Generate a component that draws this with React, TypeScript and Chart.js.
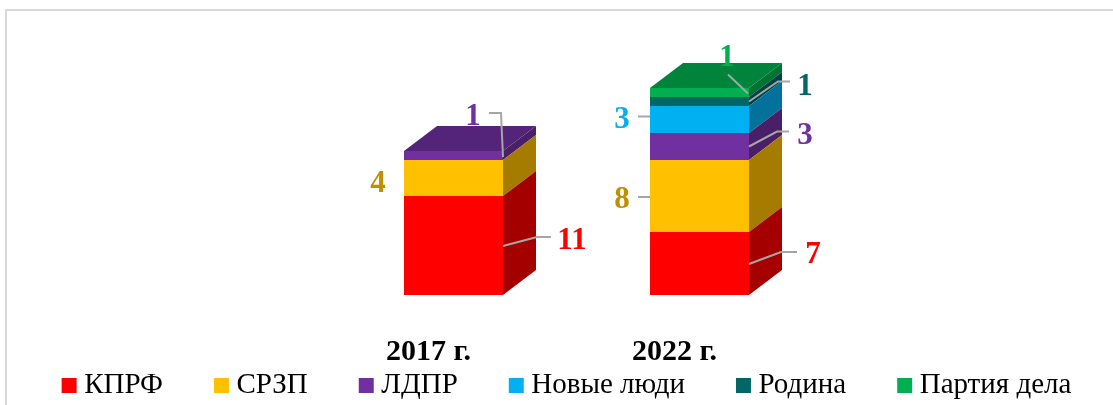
import React, { useEffect, useRef } from "react";
import { Chart, registerables } from "chart.js";

Chart.register(...registerables);

const categories = ["2017 г.", "2022 г."];
const kprf = [11, 7];
const srzp = [4, 8];
const ldpr = [1, 3];
const newPeople = [null, 3];
const rodina = [null, 1];
const delo = [null, 1];

const FONT = "'Liberation Serif', 'Times New Roman', serif";
const DEPTH_X = 33;
const DEPTH_Y = 25;

const seriesStyles = [
  { label: "КПРФ", data: kprf, color: "#FF0000", side: "#A50000", top: "#BF0000", text: "#FF0000" },
  { label: "СРЗП", data: srzp, color: "#FFC000", side: "#A67C00", top: "#BF9000", text: "#BF9000" },
  { label: "ЛДПР", data: ldpr, color: "#7030A0", side: "#491F68", top: "#54247A", text: "#7030A0" },
  { label: "Новые люди", data: newPeople, color: "#00B0F0", side: "#00729C", top: "#0084B4", text: "#00B0F0" },
  { label: "Родина", data: rodina, color: "#006666", side: "#004242", top: "#004D4D", text: "#006666" },
  { label: "Партия дела", data: delo, color: "#00B050", side: "#007234", top: "#00843C", text: "#00B050" },
];

// Label placement relative to the middle of each bar's right front edge.
const callouts = [
  { s: 0, i: 0, tx: 69, ty: -7, path: [[0, 0.5], [34, -8.5], [48, -8.5]] },
  { s: 1, i: 0, tx: -125, ty: 4, path: [] },
  { s: 2, i: 0, tx: -30, ty: -40.5, path: [[-14, -42.5], [-2, -42.5], [0, 1.5]] },
  { s: 0, i: 1, tx: 64, ty: -10.5, path: [[0, 0.5], [32, -11.5], [48, -11.5]] },
  { s: 1, i: 1, tx: -127, ty: 2, path: [[-111, 1], [-99, 1]] },
  { s: 2, i: 1, tx: 56, ty: -13, path: [[0, 0], [28, -15], [40, -15]] },
  { s: 3, i: 1, tx: -127, ty: -2, path: [[-111, -3], [-99, -3]] },
  { s: 4, i: 1, tx: 56, ty: -17, path: [[0, 0], [29, -20], [41, -20]] },
  { s: 5, i: 1, tx: -22, ty: -37, path: [[-21, -18], [-1, 1]] },
];

const CANVAS_W = 1166;
const CANVAS_H = 418;
const LEGEND_TOP = 313;
const LEGEND_SHIFT = 13;

const boxPlugin = {
  id: "box3d",
  afterLayout(chart: any) {
    chart.scales.x.bottom = chart.height;
    chart.legend.bottom = LEGEND_TOP + 150;
    chart.legend.top = LEGEND_TOP;
    chart.legend.left -= LEGEND_SHIFT;
    chart.legend.right -= LEGEND_SHIFT;
  },
  afterDatasetsDraw(chart: any) {
    const { ctx } = chart;
    const topDone: Record<number, boolean> = {};
    ctx.save();
    for (let s = seriesStyles.length - 1; s >= 0; s--) {
      const meta = chart.getDatasetMeta(s);
      meta.data.forEach((bar: any, i: number) => {
        const value = seriesStyles[s].data[i];
        if (value == null) return;
        const right = bar.x + bar.width / 2;
        const left = bar.x - bar.width / 2;
        ctx.fillStyle = seriesStyles[s].side;
        ctx.beginPath();
        ctx.moveTo(right, bar.base);
        ctx.lineTo(right + DEPTH_X, bar.base - DEPTH_Y);
        ctx.lineTo(right + DEPTH_X, bar.y - DEPTH_Y);
        ctx.lineTo(right, bar.y);
        ctx.closePath();
        ctx.fill();
        if (!topDone[i]) {
          topDone[i] = true;
          ctx.fillStyle = seriesStyles[s].top;
          ctx.beginPath();
          ctx.moveTo(left, bar.y);
          ctx.lineTo(left + DEPTH_X, bar.y - DEPTH_Y);
          ctx.lineTo(right + DEPTH_X, bar.y - DEPTH_Y);
          ctx.lineTo(right, bar.y);
          ctx.closePath();
          ctx.fill();
        }
      });
    }
    ctx.restore();
  },
  afterDraw(chart: any) {
    const { ctx } = chart;
    ctx.save();
    ctx.font = `bold 31px ${FONT}`;
    ctx.textAlign = "center";
    ctx.textBaseline = "middle";
    callouts.forEach(({ s, i, tx, ty, path }) => {
      const bar = chart.getDatasetMeta(s).data[i];
      const ax = bar.x + bar.width / 2;
      const ay = (bar.y + bar.base) / 2;
      if (path.length) {
        ctx.strokeStyle = "#A6A6A6";
        ctx.lineWidth = 2;
        ctx.beginPath();
        path.forEach(([dx, dy], k) => {
          if (k === 0) ctx.moveTo(ax + dx, ay + dy);
          else ctx.lineTo(ax + dx, ay + dy);
        });
        ctx.stroke();
      }
      ctx.fillStyle = seriesStyles[s].text;
      ctx.fillText(String(seriesStyles[s].data[i]), ax + tx, ay + ty + 2);
    });
    ctx.restore();
  },
};

export default function App() {
  const ref = useRef<HTMLCanvasElement | null>(null);
  useEffect(() => {
    if (!ref.current) return;
    const chart = new Chart(ref.current, {
      type: "bar",
      data: {
        labels: categories,
        datasets: seriesStyles.map((s) => ({
          label: s.label,
          data: s.data,
          backgroundColor: s.color,
          borderWidth: 0,
          stack: "total",
          yAxisID: "y",
          pointStyle: "rect",
          barPercentage: 1,
          categoryPercentage: 99 / 246,
        })),
      },
      options: {
        responsive: false,
        animation: false,
        layout: { padding: { left: 0, right: 0, top: 25, bottom: 0 } },
        scales: {
          x: {
            stacked: true,
            grid: { display: false },
            border: { display: false },
            afterFit: (scale: any) => {
              scale.height = 26;
            },
            ticks: {
              color: "#000000",
              font: { family: FONT, size: 30, weight: "bold" },
              padding: 31,
              labelOffset: -25,
              maxRotation: 0,
            },
          },
          y: {
            stacked: true,
            min: 0,
            max: 30,
            position: "left",
            grid: { display: false },
            border: { display: false },
            ticks: { display: false },
            afterFit: (scale: any) => {
              scale.width = 330.5;
            },
          },
          yRight: {
            min: 0,
            max: 30,
            position: "right",
            grid: { display: false },
            border: { display: false },
            ticks: { display: false },
            afterFit: (scale: any) => {
              scale.width = CANVAS_W - 822.5;
            },
          },
        },
        plugins: {
          title: { display: false },
          tooltip: { enabled: false },
          legend: {
            position: "bottom",
            labels: {
              usePointStyle: true,
              boxWidth: 1,
              boxHeight: 15,
              padding: 58,
              color: "#000000",
              font: { family: FONT, size: 29 },
            },
          },
        },
      },
      plugins: [boxPlugin],
    } as any);
    return () => chart.destroy();
  }, []);
  return (
    <div style={{ position: "absolute", left: 0, top: 0, width: 1113, height: 405, overflow: "hidden", background: "#fff" }}>
      <div style={{ position: "absolute", left: 5, top: 9, right: 0, bottom: 0, borderLeft: "2px solid #D9D9D9", borderTop: "2px solid #D9D9D9" }} />
      <canvas ref={ref} width={CANVAS_W} height={CANVAS_H} style={{ position: "absolute", left: 0, top: 0 }} />
    </div>
  );
}
